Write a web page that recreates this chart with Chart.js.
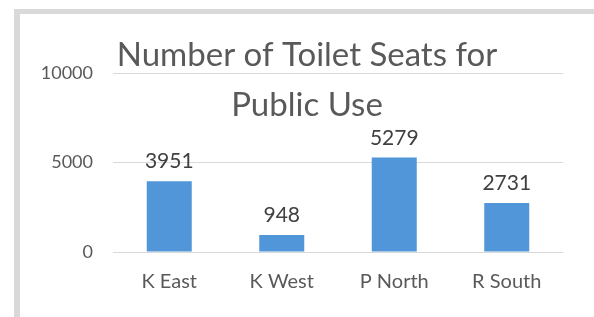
<!DOCTYPE html>
<html>
<head>
<meta charset="utf-8">
<script src="https://cdn.jsdelivr.net/npm/chart.js@4"></script>
<style>
  html, body { margin: 0; padding: 0; background: #ffffff; }
  #frame {
    position: absolute;
    left: 14px;
    top: 9px;
    border-left: 6px solid #d9d9d9;
    border-top: 5px solid #d9d9d9;
    background: #ffffff;
  }
  canvas { display: block; }
</style>
</head>
<body>
<div id="frame">
  <canvas id="toilets" width="574" height="303"></canvas>
</div>
<script>
// Chart data
const areas = ["K East", "K West", "P North", "R South"];
const seats = [3951, 948, 5279, 2731];
const titleLines = ["Number of Toilet Seats for", "Public Use"];

const textGrey = "#595959";
const barBlue = "#5096d8";

// Draw the value above each bar
const valueLabels = {
  id: "valueLabels",
  afterDatasetsDraw(chart) {
    const ctx = chart.ctx;
    const meta = chart.getDatasetMeta(0);
    ctx.save();
    ctx.font = "21px Lato";
    ctx.fillStyle = "#404040";
    ctx.textAlign = "center";
    ctx.textBaseline = "alphabetic";
    meta.data.forEach((bar, i) => {
      ctx.fillText(String(chart.data.datasets[0].data[i]), bar.x, bar.y - 13);
    });
    ctx.restore();
  },
};

new Chart(document.getElementById("toilets"), {
  type: "bar",
  plugins: [valueLabels],
  data: {
    labels: areas,
    datasets: [
      {
        data: seats,
        backgroundColor: barBlue,
        borderWidth: 0,
        barPercentage: 0.8,
        categoryPercentage: 0.5,
      },
    ],
  },
  options: {
    responsive: false,
    animation: false,
    layout: { padding: { top: 17, left: 0, right: 0, bottom: 0 } },
    plugins: {
      legend: { display: false },
      tooltip: { enabled: false },
      title: {
        display: true,
        text: titleLines,
        color: textGrey,
        font: { family: "Lato", size: 33, weight: "normal", lineHeight: 1.5 },
        // title sits over the top of the plot, like the original
        padding: { top: 0, bottom: -57 },
      },
    },
    scales: {
      x: {
        grid: { display: false, drawTicks: false },
        border: { display: false },
        ticks: { color: textGrey, font: { family: "Lato", size: 20 }, padding: 18 },
        afterFit: (s) => {
          s.height = 65;
          s.paddingRight = 31;
        },
      },
      y: {
        min: 0,
        max: 10000,
        border: { display: false },
        grid: { color: "#d9d9d9", lineWidth: 1, drawTicks: false },
        ticks: {
          stepSize: 5000,
          color: textGrey,
          font: { family: "Lato", size: 18 },
          padding: 20,
          callback: (v) => String(v),
        },
        afterFit: (s) => {
          s.width = 93;
        },
      },
    },
  },
});
</script>
</body>
</html>
